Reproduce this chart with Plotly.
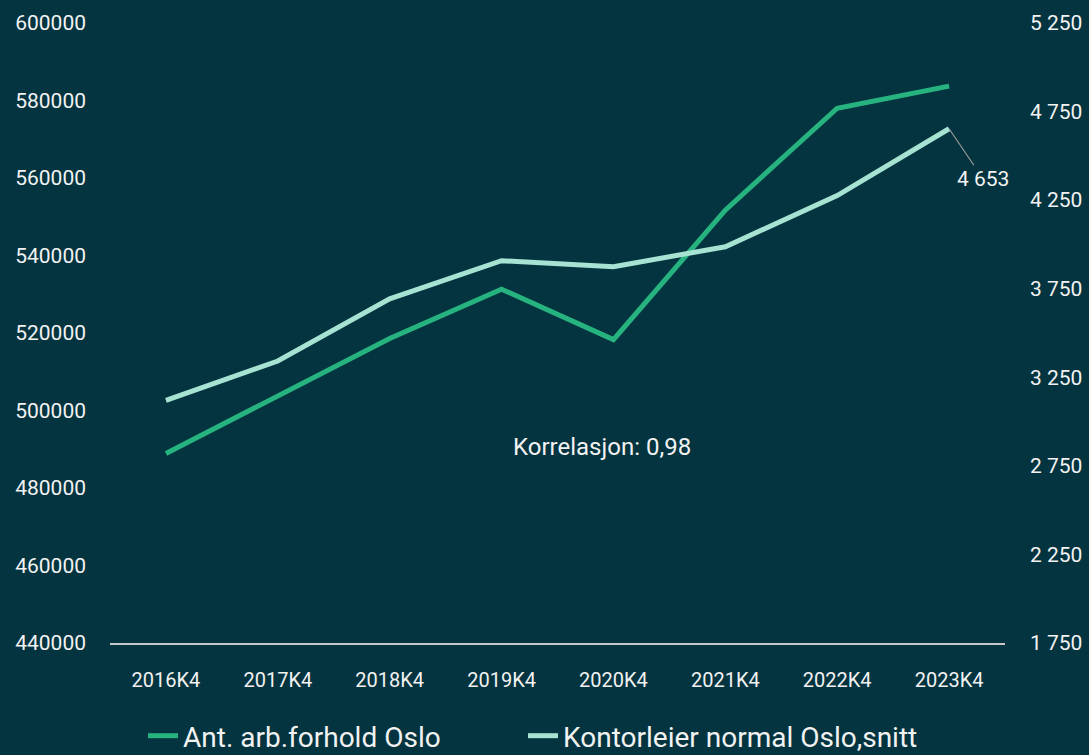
import plotly.graph_objects as go

categories = ["2016K4", "2017K4", "2018K4", "2019K4", "2020K4", "2021K4", "2022K4", "2023K4"]
arb_forhold = [488900, 503600, 518600, 531300, 518300, 551700, 578000, 583700]
kontorleie = [3120, 3342, 3693, 3908, 3874, 3987, 4276, 4653]

BG = "#03343f"
GREEN = "#27b37f"
MINT = "#a6e3d3"
TXT = "#f2f2f2"
FONT = "Roboto"

L, R, T, B = 110, 84, 23, 112
W, H = 1089, 755
PW = W - L - R
PH = H - T - B

fig = go.Figure()
fig.add_trace(go.Scatter(x=categories, y=arb_forhold, mode="lines", name="Ant. arb.forhold Oslo",
                         line=dict(color=GREEN, width=5), yaxis="y", legend="legend"))
fig.add_trace(go.Scatter(x=categories, y=kontorleie, mode="lines", name="Kontorleier normal Oslo,snitt",
                         line=dict(color=MINT, width=5), yaxis="y2", legend="legend2"))

fig.add_annotation(x=categories[-1], y=kontorleie[-1], xref="x", yref="y2",
                   text="4 653", showarrow=True, arrowhead=0, arrowwidth=1.2, arrowcolor="#9a9a9a",
                   ax=34, ay=50, font=dict(color=TXT, size=21, family=FONT))
fig.add_annotation(x=3.9, y=490700, xref="x", yref="y", text="Korrelasjon: 0,98", showarrow=False,
                   font=dict(color=TXT, size=24, family=FONT))

leg_y = -(736 - (T + PH)) / PH
leg_common = dict(orientation="h", xref="paper", xanchor="left", yref="paper", y=leg_y,
                  yanchor="middle", font=dict(size=28, color=TXT, family=FONT),
                  bgcolor="rgba(0,0,0,0)")

fig.update_layout(
    width=W, height=H,
    paper_bgcolor=BG, plot_bgcolor=BG,
    margin=dict(l=L, r=R, t=T, b=B, autoexpand=False),
    separators=", ",
    font=dict(family=FONT, color=TXT, size=20),
    showlegend=True,
    legend=dict(x=(143 - L) / PW, **leg_common),
    legend2=dict(x=(523 - L) / PW, **leg_common),
    xaxis=dict(type="category", range=[-0.5, 7.5], showgrid=False, zeroline=False,
               showline=True, linecolor="#c8c8c8", linewidth=2, ticks="",
               ticklabelstandoff=18, tickfont=dict(size=20, color=TXT), automargin=False),
    yaxis=dict(range=[440000, 600000], dtick=20000, tickformat="d", showgrid=False, zeroline=False,
               showline=False, ticks="", ticklabelstandoff=23, tickfont=dict(size=21, color=TXT),
               automargin=False),
    yaxis2=dict(range=[1750, 5250], tick0=1750, dtick=500, tickformat=",d", overlaying="y", side="right",
                showgrid=False, zeroline=False, showline=False, ticks="", ticklabelstandoff=24,
                tickfont=dict(size=21, color=TXT), automargin=False),
)

fig.write_html("out.html", post_script="document.body.style.margin='0';",
               config={"displayModeBar": False})
